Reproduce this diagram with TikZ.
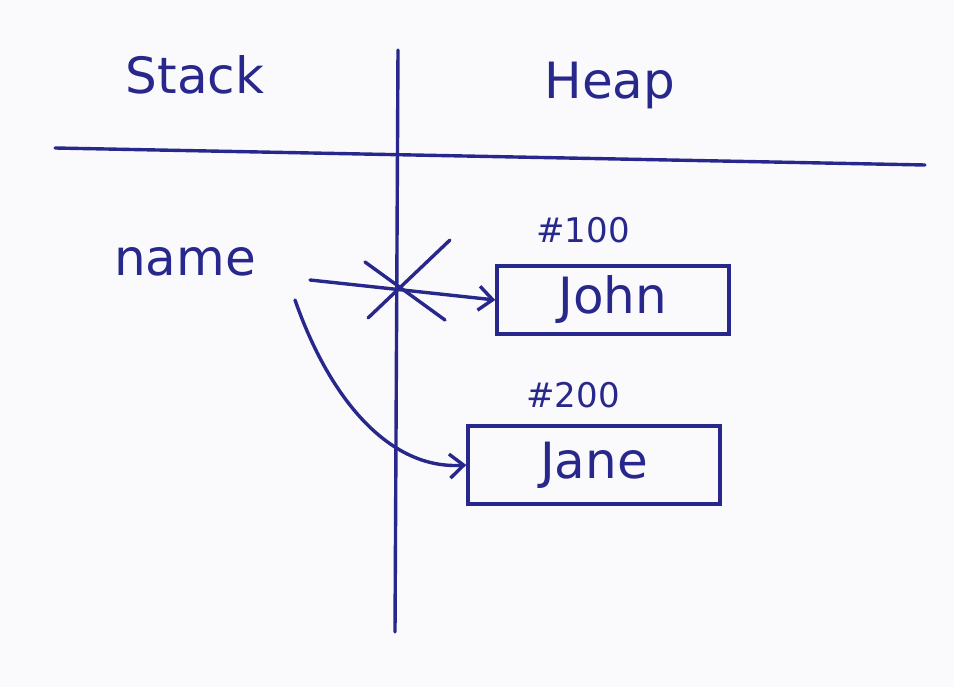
\documentclass[tikz,border=0pt]{standalone}
\usepackage{fontspec}
\setmainfont{DejaVu Sans}
\usetikzlibrary{arrows.meta}
\definecolor{ink}{RGB}{40,40,140}
\definecolor{paper}{RGB}{250,250,252}
\begin{document}
\begin{tikzpicture}[x=1pt,y=-1pt,
  pen/.style={draw=ink,line width=3.4pt,line cap=round},
  lbl/.style={text=ink,font=\fontsize{50}{54}\selectfont},
  small/.style={text=ink,font=\fontsize{34}{38}\selectfont},
  box/.style={pen,minimum width=232pt,minimum height=68pt,inner sep=0pt}]
\fill[paper] (0,0) rectangle (954,687);
\useasboundingbox (0,0) rectangle (954,687);
\node[lbl] (stack) at (195,75) {Stack};
\node[lbl] (heap) at (610,85) {Heap};
\coordinate (hl) at (55,148);
\coordinate (hr) at (925,165);
\draw[pen] (hl) -- (hr);
\coordinate (vt) at (398,50);
\coordinate (vb) at (395,632);
\draw[pen] (vt) -- (vb);
\node[lbl] (name) at (185,262) {name};
\node[box] (john) at (613,300) {};
\node[lbl] at (john) {John};
\node[small] (h100) at (583,230) {\#100};
\node[box,minimum width=252pt,minimum height=78pt] (jane) at (594,465) {};
\node[lbl] at (jane) {Jane};
\node[small] (h200) at (573,395) {\#200};
\coordinate (s1) at (310,280);
\draw[pen,-{Straight Barb[length=14pt,width=24pt]}] (s1) -- (john.west);
\draw[pen] (365,262) -- (445,320);
\draw[pen] (450,240) -- (368,318);
\coordinate (s2) at (295,300);
\draw[pen,-{Straight Barb[length=14pt,width=24pt]}] (s2) .. controls (330,400) and (390,470) .. (jane.west);
\end{tikzpicture}
\end{document}
